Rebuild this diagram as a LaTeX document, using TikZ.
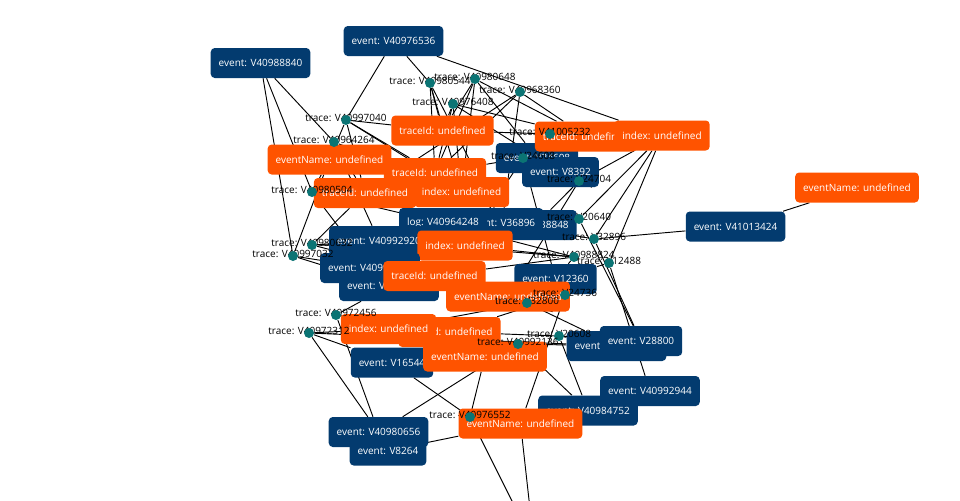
\documentclass[tikz,border=0pt]{standalone}
\usepackage{fontspec}
\setmainfont{Open Sans}
\usetikzlibrary{backgrounds}
\definecolor{evblue}{HTML}{033B6F}
\definecolor{attrorange}{HTML}{FF5300}
\definecolor{tracegreen}{HTML}{0B7474}
\newcommand{\tracept}[4]{
	\node[tracelbl] at (#2,#3-2.5) {trace: #4};
	\node[tracedot] (#1) at (#2,#3) {};
}

\begin{document}
\begin{tikzpicture}[x=0.75pt,y=-0.75pt,
	evbox/.style={fill=evblue,text=white,rounded corners=3pt,minimum height=22.5pt,inner xsep=6pt,inner ysep=0pt,font=\fontsize{7.5}{9}\selectfont},
	attrbox/.style={evbox,fill=attrorange},
	tracelbl/.style={inner sep=0pt,font=\fontsize{7.5}{9}\selectfont},
	tracedot/.style={circle,fill=tracegreen,minimum size=7.5pt,inner sep=0pt},
	link/.style={line width=0.7pt}]
	\useasboundingbox (0,0) rectangle (960,500);
	\clip (0,0) rectangle (960,500);

	\node[evbox] (e40988840) at (260.5,63) {event: V40988840};
	\node[evbox] (e40976536) at (393.5,41) {event: V40976536};
	\node[evbox] (e41013424) at (735.5,226.5) {event: V41013424};
	\node[attrbox] (nmR) at (857,187.5) {eventName: undefined};
	\node[attrbox] (nmL) at (329.5,159.5) {eventName: undefined};
	\node[attrbox] (tidA) at (442.5,130.5) {traceId: undefined};
	\node[attrbox] (tidB) at (435,173) {traceId: undefined};
	\node[attrbox] (tidC) at (365,193) {traceId: undefined};
	\node[attrbox] (ixA) at (461.5,192) {index: undefined};
	\node[evbox] (e24608) at (537,158) {event: V24608};
	\node[evbox] (e8392) at (560.5,172) {event: V8392};
	\node[attrbox] (tidD) at (586,136.5) {traceId: undefined};
	\node[attrbox] (ixB) at (662,135.5) {index: undefined};
	\node[evbox] (e38848) at (535.5,225) {event: V38848};
	\node[evbox] (e36896) at (502,223) {event: V36896};
	\node[evbox] (lg40964248) at (443,223) {log: V40964248};
	\node[evbox] (e40992920) at (379,241) {event: V40992920};
	\node[attrbox] (ixC) at (465,245.5) {index: undefined};
	\node[evbox] (e409a) at (370,268) {event: V40992904};
	\node[evbox] (e409b) at (389,286) {event: V40984768};
	\node[attrbox] (tidE) at (434.5,276) {traceId: undefined};
	\node[evbox] (e12360) at (555.5,279) {event: V12360};
	\node[attrbox] (nmC) at (508,296.5) {eventName: undefined};
	\node[attrbox] (tidF) at (449.5,332) {traceId: undefined};
	\node[attrbox] (ixD) at (388.5,329) {index: undefined};
	\node[evbox] (e16544) at (392,362.5) {event: V16544};
	\node[attrbox] (nmD) at (485,356.5) {eventName: undefined};
	\node[evbox] (eHidden) at (616.5,346) {event: V40992184};
	\node[evbox] (e28800) at (641,341) {event: V28800};
	\node[evbox] (e40984752) at (588,410.5) {event: V40984752};
	\node[evbox] (e40992944) at (650,391) {event: V40992944};
	\node[evbox] (e40980656) at (378.5,432) {event: V40980656};
	\node[evbox] (e8264) at (388,450.5) {event: V8264};
	\node[attrbox] (nmE) at (520.5,423.5) {eventName: undefined};
	\coordinate (offscreen) at (534,545);

	\tracept{t40997040}{346}{120}{V40997040}
	\tracept{t40964264}{334}{142}{V40964264}
	\tracept{t40980504}{312}{192}{V40980504}
	\tracept{t40980544}{430}{83}{V40980544}
	\tracept{t40980648}{475}{79}{V40980648}
	\tracept{t40968360}{520}{92}{V40968360}
	\tracept{t40976408}{453}{104}{V40976408}
	\tracept{t41005232}{550}{134}{V41005232}
	\tracept{t24608}{523}{158}{V24608}
	\tracept{t24704}{579}{181}{V24704}
	\tracept{t20640}{579}{219}{V20640}
	\tracept{t32896}{594}{239}{V32896}
	\tracept{t40988824}{574}{257}{V40988824}
	\tracept{t12488}{609}{263}{V12488}
	\tracept{t24736}{565}{295}{V24736}
	\tracept{t32800}{527}{303}{V32800}
	\tracept{t20608}{559}{336}{V20608}
	\tracept{t40992136}{518}{344}{V40992136}
	\tracept{t40976552}{470}{417}{V40976552}
	\tracept{t40972456}{336}{315}{V40972456}
	\tracept{t40972312}{309}{333}{V40972312}
	\tracept{t40980632}{312}{245}{V40980632}
	\tracept{t40997032}{293}{256}{V40997032}

	\begin{scope}[on background layer,every edge/.style={draw,link}]
	\draw (e40988840) edge (t40980504) edge (t40964264) edge (t40997032);
	\draw (e40976536) edge (t40997040) edge (t40980544) edge (ixB);
	\draw (e41013424) edge (t32896) edge (nmR);
	\draw (t40997040) edge (tidA) edge (tidB) edge (ixA) edge (nmL) edge (tidC);
	\draw (t40964264) edge (nmL) edge (tidC) edge (ixA) edge (e40992920);
	\draw (t40980504) edge (nmL) edge (tidC) edge (lg40964248) edge (e409a) edge (tidB);
	\draw (t40980544) edge (tidA) edge (tidB) edge (ixA) edge (e36896);
	\draw (t40980648) edge (tidA) edge (ixA) edge (tidD) edge (e24608) edge (tidB);
	\draw (t40968360) edge (tidB) edge (e36896) edge (tidD) edge (tidC);
	\draw (t40976408) edge (tidA) edge (ixA) edge (tidD) edge (e8392) edge (tidB);
	\draw (t41005232) edge (tidD) edge (ixB) edge (tidA) edge (e8392);
	\draw (t24608) edge (e24608) edge (tidB) edge (ixC) edge (e12360);
	\draw (t24704) edge (e8392) edge (ixB) edge (e38848) edge (nmC);
	\draw (t20640) edge (ixB) edge (e38848) edge (ixC) edge (e28800);
	\draw (t32896) edge (ixB) edge (e28800) edge (e36896);
	\draw (t40988824) edge (ixC) edge (e12360) edge (tidE) edge (lg40964248) edge (e40992920);
	\draw (t12488) edge (ixB) edge (e40992944) edge (e12360);
	\draw (t24736) edge (e12360) edge (nmC) edge (tidF) edge (nmE);
	\draw (t32800) edge (nmC) edge (tidE) edge (ixD) edge (eHidden);
	\draw (t20608) edge (eHidden) edge (e28800) edge (tidF) edge (e40984752);
	\draw (t40992136) edge (nmD) edge (e40980656) edge (tidF) edge (eHidden) edge (e40984752);
	\draw (t40976552) edge (e16544) edge (nmE) edge (nmD) edge (offscreen);
	\draw (t40972456) edge (ixD) edge (e409b) edge (e40980656) edge (tidF);
	\draw (t40972312) edge (e40980656) edge (eHidden) edge (ixD) edge (e16544);
	\draw (t40980632) edge (e40992920) edge (ixC) edge (tidE) edge (tidC);
	\draw (t40997032) edge (e409a) edge (e409b) edge (nmL);
	\draw (nmE) edge (offscreen) edge (e8264);
	\end{scope}
\end{tikzpicture}
\end{document}
